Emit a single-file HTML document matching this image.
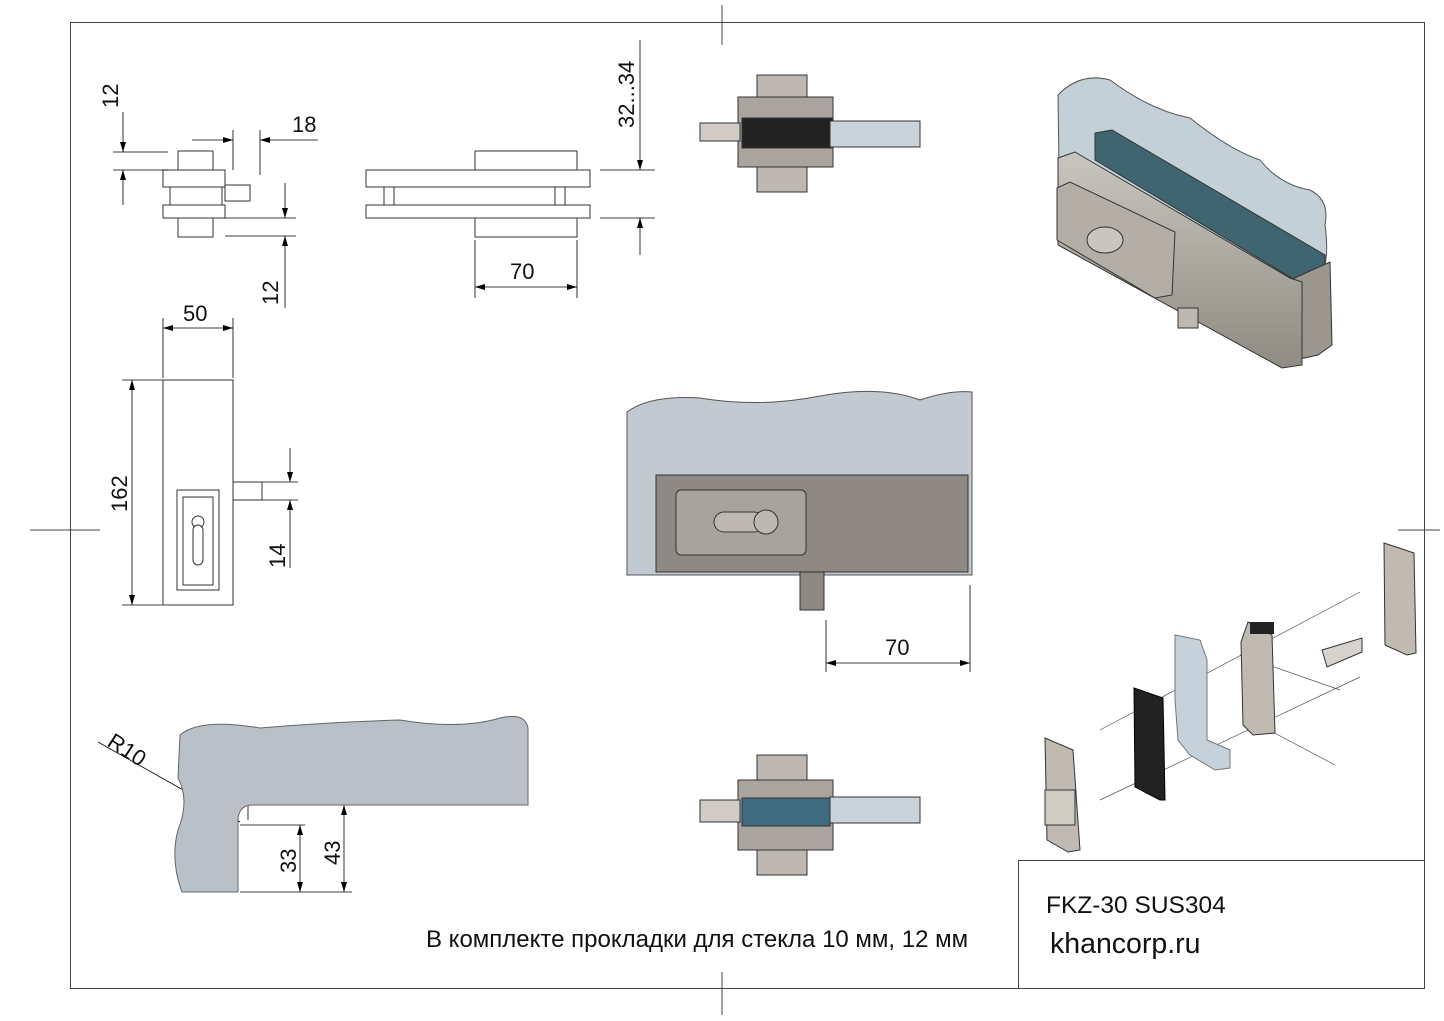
<!DOCTYPE html>
<html><head><meta charset="utf-8"><style>
html,body{margin:0;padding:0;background:#fff}
svg{display:block}
text{font-family:"Liberation Sans",sans-serif;fill:#111}
</style></head><body>
<svg width="1444" height="1021" viewBox="0 0 1444 1021" xmlns="http://www.w3.org/2000/svg">
<defs>
<marker id="a" viewBox="0 0 10 6" refX="10" refY="3" markerWidth="10" markerHeight="6" orient="auto-start-reverse" markerUnits="userSpaceOnUse"><path d="M0,0L10,3L0,6z" fill="#000"/></marker>
<linearGradient id="m" x1="0" y1="0" x2="0" y2="1"><stop offset="0" stop-color="#c9c6be"/><stop offset="1" stop-color="#8f8b83"/></linearGradient>
</defs>
<g stroke="#444" stroke-width="1" fill="none">
<rect x="70.5" y="22.5" width="1354" height="966"/>
<rect x="1018.5" y="860.5" width="406" height="128"/>
<line x1="722" y1="5" x2="722" y2="45"/><line x1="722" y1="972" x2="722" y2="1015"/>
<line x1="30" y1="530" x2="100" y2="530"/><line x1="1398" y1="530" x2="1440" y2="530"/>
</g>
<g stroke="#333" stroke-width="1" fill="#fff">
<rect x="178" y="151" width="35" height="19"/><rect x="163" y="170" width="62" height="17"/>
<rect x="170" y="187" width="52" height="18"/><rect x="225" y="185" width="25" height="16"/>
<rect x="163" y="205" width="62" height="13"/><rect x="178" y="218" width="35" height="19"/>
<rect x="366" y="170" width="224" height="17"/><rect x="366" y="205" width="224" height="13"/>
<rect x="475" y="151" width="102" height="19"/><rect x="475" y="218" width="102" height="19"/>
<rect x="384" y="187" width="10" height="18"/><rect x="555" y="187" width="10" height="18"/>
</g>
<g stroke="#000" stroke-width="0.8" fill="none">
<line x1="113" y1="152" x2="168" y2="152"/><line x1="113" y1="170" x2="168" y2="170"/>
<line x1="123" y1="112" x2="123" y2="152" marker-end="url(#a)"/><line x1="123" y1="205" x2="123" y2="170" marker-end="url(#a)"/>
<line x1="233" y1="130" x2="233" y2="170"/><line x1="260" y1="130" x2="260" y2="175"/>
<line x1="192" y1="140" x2="233" y2="140" marker-end="url(#a)"/><line x1="318" y1="140" x2="260" y2="140" marker-end="url(#a)"/>
<line x1="225" y1="218" x2="296" y2="218"/><line x1="225" y1="236" x2="296" y2="236"/>
<line x1="285" y1="183" x2="285" y2="218" marker-end="url(#a)"/><line x1="285" y1="308" x2="285" y2="236" marker-end="url(#a)"/>
<line x1="600" y1="170" x2="655" y2="170"/><line x1="600" y1="218" x2="655" y2="218"/>
<line x1="640" y1="40" x2="640" y2="170" marker-end="url(#a)"/><line x1="640" y1="255" x2="640" y2="218" marker-end="url(#a)"/>
<line x1="475" y1="240" x2="475" y2="298"/><line x1="577" y1="240" x2="577" y2="298"/>
<line x1="475" y1="287" x2="577" y2="287" marker-start="url(#a)" marker-end="url(#a)"/>
<line x1="163" y1="318" x2="163" y2="378"/><line x1="233" y1="318" x2="233" y2="378"/>
<line x1="163" y1="328" x2="233" y2="328" marker-start="url(#a)" marker-end="url(#a)"/>
<line x1="122" y1="380" x2="163" y2="380"/><line x1="122" y1="605" x2="163" y2="605"/>
<line x1="132" y1="380" x2="132" y2="605" marker-start="url(#a)" marker-end="url(#a)"/>
<line x1="262" y1="482" x2="298" y2="482"/><line x1="262" y1="500" x2="298" y2="500"/>
<line x1="290" y1="448" x2="290" y2="482" marker-end="url(#a)"/><line x1="290" y1="568" x2="290" y2="500" marker-end="url(#a)"/>
<line x1="826" y1="620" x2="826" y2="672"/><line x1="970" y1="585" x2="970" y2="672"/>
<line x1="826" y1="663" x2="970" y2="663" marker-start="url(#a)" marker-end="url(#a)"/>
<line x1="248" y1="755" x2="528" y2="755" marker-start="url(#a)" marker-end="url(#a)"/>
<line x1="248" y1="740" x2="248" y2="820"/>
<line x1="98" y1="742" x2="240" y2="822" marker-end="url(#a)"/>
<line x1="240" y1="825" x2="305" y2="825"/><line x1="240" y1="805" x2="352" y2="805"/>
<line x1="240" y1="892" x2="352" y2="892"/>
<line x1="300" y1="825" x2="300" y2="892" marker-start="url(#a)" marker-end="url(#a)"/>
<line x1="344" y1="805" x2="344" y2="892" marker-start="url(#a)" marker-end="url(#a)"/>
</g>
<g font-size="22">
<text x="292" y="132">18</text>
<text x="510" y="279">70</text>
<text x="183" y="321">50</text>
<text x="885" y="655">70</text>
<text x="369" y="745">138</text>
<text transform="translate(118,108) rotate(-90)">12</text>
<text transform="translate(278,305) rotate(-90)">12</text>
<text transform="translate(634,128) rotate(-90)">32...34</text>
<text transform="translate(127,512) rotate(-90)">162</text>
<text transform="translate(285,568) rotate(-90)">14</text>
<text transform="translate(296,873) rotate(-90)">33</text>
<text transform="translate(340,865) rotate(-90)">43</text>
<text transform="translate(106,745) rotate(33)">R10</text>
</g>
<g stroke="#333" fill="#fff">
<rect x="163" y="380" width="70" height="225"/>
<rect x="233" y="482" width="29" height="18"/>
<rect x="177" y="490" width="42" height="100"/>
<rect x="183" y="497" width="30" height="88"/>
<circle cx="198" cy="522" r="6"/><rect x="193" y="525" width="10" height="40" rx="5"/>
</g>
<path d="M627,412 Q650,395 700,398 Q760,408 820,396 Q880,385 920,400 Q950,390 972,392 L972,575 L627,575 Z" fill="#c3c9d0" stroke="#555"/>
<rect x="656" y="475" width="312" height="97" fill="#8e8a83" stroke="#333"/>
<rect x="676" y="490" width="130" height="65" rx="5" fill="#a7a49d" stroke="#333"/>
<rect x="714" y="512" width="50" height="20" rx="10" fill="#bdb9b2" stroke="#333"/>
<circle cx="766" cy="522" r="12" fill="#bdb9b2" stroke="#333"/>
<rect x="800" y="572" width="24" height="38" fill="#8e8a83" stroke="#333"/>
<path d="M180,735 Q200,718 260,728 Q330,722 400,720 Q460,730 500,718 Q525,712 528,728 L528,805 L252,805 Q240,805 238,818 L238,892 L182,892 Q170,860 178,830 Q190,800 178,778 Z" fill="#b9c0c8" stroke="#666"/>
<g stroke="#333">
<rect x="757" y="75" width="50" height="22" fill="#bdb9b2"/>
<rect x="738" y="97" width="95" height="70" fill="#a9a59e"/>
<rect x="757" y="167" width="50" height="25" fill="#bdb9b2"/>
<rect x="700" y="123" width="40" height="18" fill="#d0ccc5"/>
<rect x="742" y="118" width="90" height="30" fill="#222"/>
<rect x="830" y="121" width="90" height="26" fill="#c8d3da"/>
<rect x="757" y="755" width="50" height="25" fill="#bdb9b2"/>
<rect x="738" y="780" width="95" height="70" fill="#a9a59e"/>
<rect x="757" y="850" width="50" height="25" fill="#bdb9b2"/>
<rect x="700" y="800" width="40" height="22" fill="#d0ccc5"/>
<rect x="742" y="798" width="88" height="28" fill="#3e6b80"/>
<rect x="830" y="797" width="90" height="26" fill="#c8d3da"/>
</g>
<path d="M1058,95 Q1080,72 1110,80 Q1150,110 1190,118 Q1230,150 1260,160 Q1280,185 1310,190 Q1330,200 1325,225 Q1330,260 1320,280 L1060,240 Z" fill="#b8c8d0" fill-opacity="0.85" stroke="#555"/>
<path d="M1095,133 L1112,130 L1325,255 L1325,270 L1300,283 L1095,160 Z" fill="#3f6670" stroke="#333"/>
<path d="M1290,280 L1330,262 L1332,345 L1318,355 L1295,360 Z" fill="#9b978f" stroke="#333"/>
<path d="M1058,158 L1075,152 L1290,278 L1302,282 L1302,365 L1282,368 L1058,245 Z" fill="url(#m)" stroke="#333"/>
<path d="M1057,188 L1070,182 L1175,232 L1172,295 L1155,298 L1057,240 Z" fill="#b3afa7" stroke="#333"/>
<ellipse cx="1105" cy="240" rx="18" ry="13" fill="#c9c6be" stroke="#333"/>
<rect x="1178" y="308" width="20" height="20" fill="#bdb9b2" stroke="#333"/>
<g stroke="#555" stroke-width="0.7"><line x1="1100" y1="730" x2="1360" y2="592"/><line x1="1100" y1="800" x2="1360" y2="677"/><line x1="1240" y1="655" x2="1340" y2="690"/><line x1="1250" y1="720" x2="1335" y2="765"/></g>
<path d="M1384,543 L1414,553 L1416,653 L1407,655 L1385,645 Z" fill="#bfbbb3" stroke="#333"/>
<path d="M1045,738 L1073,750 L1080,850 L1068,852 L1047,840 Z" fill="#bfbbb3" stroke="#333"/>
<rect x="1045" y="790" width="30" height="35" fill="#cfccc4" stroke="#333"/>
<path d="M1134,688 L1163,698 L1165,800 L1160,800 L1135,787 Z" fill="#222" stroke="#000"/>
<path d="M1175,635 L1200,640 L1207,660 L1207,740 L1230,750 L1230,768 L1215,770 L1190,755 L1178,740 L1175,700 Z" fill="#c5d2dc" stroke="#777"/>
<path d="M1248,622 L1272,635 L1275,733 L1253,735 L1243,725 L1241,642 Z" fill="#bfbbb3" stroke="#333"/>
<rect x="1250" y="622" width="24" height="12" fill="#222"/>
<path d="M1322,650 L1362,638 L1362,652 L1327,667 Z" fill="#d6d3cc" stroke="#333"/>
<text x="1046" y="913" font-size="24.5">FKZ-30 SUS304</text>
<text x="1050" y="953" font-size="28.5">khancorp.ru</text>
<text x="426" y="947" font-size="24">В комплекте прокладки для стекла 10 мм, 12 мм</text>
</svg>
</body></html>
